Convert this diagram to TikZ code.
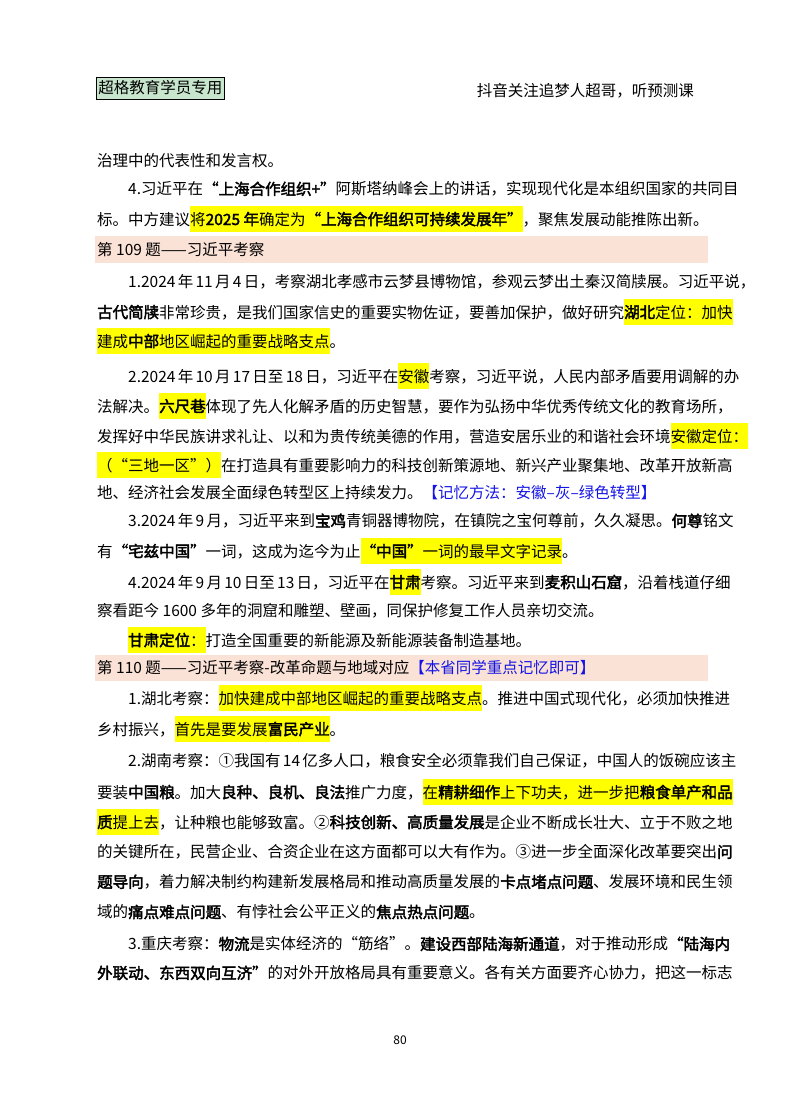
\documentclass[tikz,border=0pt]{standalone}
\usepackage{fontspec}
\setmainfont[BoldFont={Noto Sans CJK SC},BoldFeatures={FakeBold=2.5}]{Noto Sans CJK SC}
\XeTeXlinebreaklocale "zh"
\XeTeXlinebreakskip=0pt plus 2pt
\definecolor{hly}{RGB}{255,255,0}
\definecolor{barc}{RGB}{250,226,214}
\definecolor{hdrg}{RGB}{200,230,205}
\definecolor{memo}{RGB}{20,20,230}
\newcommand\hl[1]{{\fboxsep=0pt\colorbox{hly}{\rule[-7pt]{0pt}{26pt}#1}}}
\newcommand\bd[1]{\textbf{#1}}
\newcommand\fl[1]{\makebox[611pt][s]{#1}}
\tikzset{ln/.style={anchor=west,inner sep=0pt,font=\fontsize{15.5}{18}\selectfont}}
\begin{document}
\begin{tikzpicture}[x=1pt,y=-1pt]
\useasboundingbox (0,0) rectangle (800,1114);
\node[draw,thick,fill=hdrg,anchor=west,inner sep=2pt,minimum height=22pt,minimum width=126pt,font=\fontsize{15.5}{18}\selectfont] (hdr) at (96,88) {超格教育学员专用};
\node[anchor=east,inner sep=0pt,font=\fontsize{15.5}{18}\selectfont] (hdr2) at (694,91) {抖音关注追梦人超哥，听预测课};
\fill[barc] (95,236) rectangle (708,263);
\fill[barc] (95,655) rectangle (708,681);
\node[ln] (l1) at (97,161) {治理中的代表性和发言权。};
\node[ln] (l2) at (128,189) {\makebox[580pt][s]{4.习近平在\bd{“上海合作组织+”}阿斯塔纳峰会上的讲话，实现现代化是本组织国家的共同目}};
\node[ln] (l3) at (97,219) {标。中方建议\hl{将\bd{2025 年}确定为\bd{“上海合作组织可持续发展年”}}，聚焦发展动能推陈出新。};
\node[ln] (l4) at (97,250) {第 109 题——习近平考察};
\node[ln] (l5) at (128,282) {\makebox[580pt][s]{1.2024 年 11 月 4 日，考察湖北孝感市云梦县博物馆，参观云梦出土秦汉简牍展。习近平说，}};
\node[ln] (l6) at (97,312) {\fl{\bd{古代简牍}非常珍贵，是我们国家信史的重要实物佐证，要善加保护，做好研究\hl{\bd{湖北}定位：加快}}};
\node[ln] (l7) at (97,341) {\hl{建成\bd{中部}地区崛起的重要战略支点}。};
\node[ln] (l8) at (128,376) {\makebox[580pt][s]{2.2024 年 10 月 17 日至 18 日，习近平在\hl{安徽}考察，习近平说，人民内部矛盾要用调解的办}};
\node[ln] (l9) at (97,406) {\fl{法解决。\hl{\bd{六尺巷}}体现了先人化解矛盾的历史智慧，要作为弘扬中华优秀传统文化的教育场所，}};
\node[ln] (l10) at (97,436) {\fl{发挥好中华民族讲求礼让、以和为贵传统美德的作用，营造安居乐业的和谐社会环境\hl{安徽定位：}}};
\node[ln] (l11) at (97,465) {\fl{\hl{（“三地一区”）}在打造具有重要影响力的科技创新策源地、新兴产业聚集地、改革开放新高}};
\node[ln] (l12) at (97,493) {地、经济社会发展全面绿色转型区上持续发力。\textcolor{memo}{【记忆方法：安徽–灰–绿色转型】}};
\node[ln] (l13) at (128,521) {\makebox[580pt][s]{3.2024 年 9 月，习近平来到\bd{宝鸡}青铜器博物院，在镇院之宝何尊前，久久凝思。\bd{何尊}铭文}};
\node[ln] (l14) at (97,551) {有\bd{“宅兹中国”}一词，这成为迄今为止\hl{\bd{“中国”}一词的最早文字记录}。};
\node[ln] (l15) at (128,582) {\makebox[580pt][s]{4.2024 年 9 月 10 日至 13 日，习近平在\hl{\bd{甘肃}}考察。习近平来到\bd{麦积山石窟}，沿着栈道仔细}};
\node[ln] (l16) at (97,611) {察看距今 1600 多年的洞窟和雕塑、壁画，同保护修复工作人员亲切交流。};
\node[ln] (l17) at (128,640) {\hl{\bd{甘肃定位}：}打造全国重要的新能源及新能源装备制造基地。};
\node[ln] (l18) at (97,668) {第 110 题——习近平考察-改革命题与地域对应\textcolor{memo}{【本省同学重点记忆即可】}};
\node[ln] (l19) at (128,698) {\makebox[580pt][s]{1.湖北考察：\hl{加快建成中部地区崛起的重要战略支点}。推进中国式现代化，必须加快推进}};
\node[ln] (l20) at (97,729) {乡村振兴，\hl{首先是要发展\bd{富民产业}}。};
\node[ln] (l21) at (128,761) {\makebox[580pt][s]{2.湖南考察：①我国有 14 亿多人口，粮食安全必须靠我们自己保证，中国人的饭碗应该主}};
\node[ln] (l22) at (97,792) {\fl{要装\bd{中国粮}。加大\bd{良种、良机、良法}推广力度，\hl{在\bd{精耕细作}上下功夫，进一步把\bd{粮食单产和品}}}};
\node[ln] (l23) at (97,822) {\fl{\hl{\bd{质}提上去}，让种粮也能够致富。②\bd{科技创新、高质量发展}是企业不断成长壮大、立于不败之地}};
\node[ln] (l24) at (97,852) {\fl{的关键所在，民营企业、合资企业在这方面都可以大有作为。③进一步全面深化改革要突出\bd{问}}};
\node[ln] (l25) at (97,882) {\fl{\bd{题导向}，着力解决制约构建新发展格局和推动高质量发展的\bd{卡点堵点问题}、发展环境和民生领}};
\node[ln] (l26) at (97,912) {域的\bd{痛点难点问题}、有悖社会公平正义的\bd{焦点热点问题}。};
\node[ln] (l27) at (128,944) {\makebox[580pt][s]{3.重庆考察：\bd{物流}是实体经济的“筋络”。\bd{建设西部陆海新通道}，对于推动形成\bd{“陆海内}}};
\node[ln] (l28) at (97,973) {\fl{\bd{外联动、东西双向互济”}的对外开放格局具有重要意义。各有关方面要齐心协力，把这一标志}};
\node[inner sep=0pt,font=\fontsize{12}{14}\selectfont] (pg) at (400,1040) {80};
\end{tikzpicture}
\end{document}
